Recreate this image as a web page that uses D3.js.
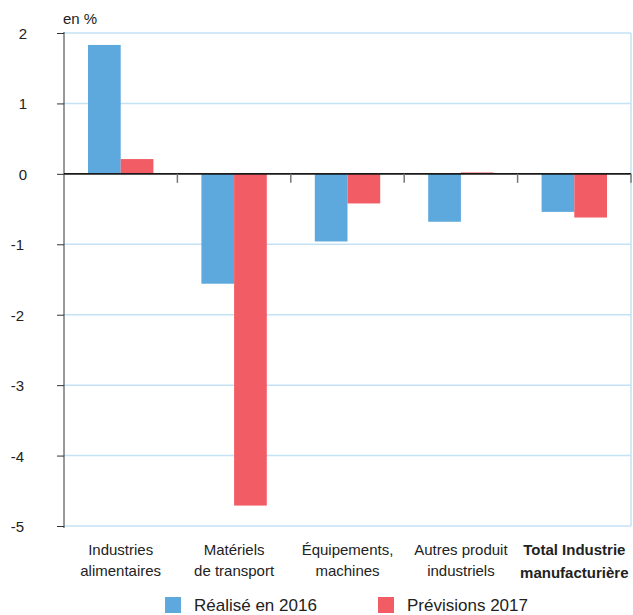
<!DOCTYPE html>
<html>
<head>
<meta charset="utf-8">
<script src="https://cdn.jsdelivr.net/npm/d3@7/dist/d3.min.js"></script>
<style>
  html, body { margin: 0; padding: 0; background: #fff; }
  svg { display: block; font-family: "Liberation Sans", Arial, Helvetica, sans-serif; }
</style>
</head>
<body>
<svg id="chart" width="633" height="615"></svg>
<script>
// Categories (each label split over two lines)
const categories = [
  ["Industries", "alimentaires"],
  ["Matériels", "de transport"],
  ["Équipements,", "machines"],
  ["Autres produit", "industriels"],
  ["Total Industrie", "manufacturière"]
];
const seriesNames = ["Réalisé en 2016", "Prévisions 2017"];
const realise2016 = [1.83, -1.56, -0.96, -0.68, -0.54];
const previsions2017 = [0.21, -4.71, -0.42, 0.02, -0.62];
const yTicks = [-5, -4, -3, -2, -1, 0, 1, 2];
const colors = ["#5da8dc", "#f25c64"];

const svg = d3.select("#chart");
const plotLeft = 64, plotRight = 631, plotTop = 33, plotBottom = 526;

const x0 = d3.scaleBand().domain(d3.range(categories.length)).range([plotLeft, plotRight]).padding(0);
const x1 = d3.scaleBand().domain([0, 1]).range([0, x0.bandwidth()]).paddingInner(0).paddingOuter(0.734);
const y = d3.scaleLinear().domain([-5, 2]).range([plotBottom, plotTop]);

// light blue gridlines
svg.append("g").selectAll("line").data(yTicks.filter(d => d !== 0)).join("line")
  .attr("x1", plotLeft).attr("x2", plotRight)
  .attr("y1", d => y(d)).attr("y2", d => y(d))
  .attr("stroke", "#c4e2f5").attr("stroke-width", 1.5);
// right frame edge
svg.append("line").attr("x1", plotRight).attr("x2", plotRight).attr("y1", y(2)).attr("y2", y(-5))
  .attr("stroke", "#c4e2f5").attr("stroke-width", 1.5);

// bars
const series = [realise2016, previsions2017];
series.forEach((vals, s) => {
  svg.append("g").selectAll("rect").data(vals).join("rect")
    .attr("x", (d, i) => x0(i) + x1(s))
    .attr("width", x1.bandwidth())
    .attr("y", d => y(Math.max(0, d)))
    .attr("height", d => Math.abs(y(d) - y(0)))
    .attr("fill", colors[s]);
});

// y axis
const yAxis = d3.axisLeft(y).tickValues(yTicks).tickSize(7).tickFormat("");
const ya = svg.append("g").attr("transform", `translate(${plotLeft},0)`).call(yAxis);
ya.select(".domain").attr("stroke", "#333").attr("d", `M-0,${plotTop - 1}V${plotBottom + 2}`);
ya.selectAll(".tick line").attr("stroke", "#333");
svg.append("g").selectAll("text").data(yTicks).join("text")
  .attr("x", d => d < 0 ? 24 : 27)
  .attr("y", d => y(d) + 6)
  .attr("text-anchor", "end")
  .attr("font-size", 15)
  .attr("fill", "#222")
  .text(d => d);

// zero line with category separators
svg.append("line").attr("x1", plotLeft).attr("x2", plotRight).attr("y1", y(0)).attr("y2", y(0))
  .attr("stroke", "#1a1a1a").attr("stroke-width", 1.6);
svg.append("g").selectAll("line").data(d3.range(1, categories.length + 1)).join("line")
  .attr("x1", i => plotLeft + i * x0.step()).attr("x2", i => plotLeft + i * x0.step())
  .attr("y1", y(0)).attr("y2", y(0) + 9)
  .attr("stroke", "#777").attr("stroke-width", 1.5);

// unit label
svg.append("text").attr("x", 63).attr("y", 24).attr("font-size", 15).attr("fill", "#222").text("en %");

// category labels
categories.forEach((lines, i) => {
  const last = i === categories.length - 1;
  const cx = x0(i) + x0.bandwidth() / 2;
  const t = svg.append("text").attr("text-anchor", "middle").attr("font-size", 15)
    .attr("fill", "#222").attr("font-weight", last ? "bold" : "normal");
  t.append("tspan").attr("x", cx).attr("y", 555).text(lines[0]);
  t.append("tspan").attr("x", cx).attr("y", last ? 578 : 576).text(lines[1]);
});

// legend
const legendX = [165, 378];
seriesNames.forEach((name, s) => {
  svg.append("rect").attr("x", legendX[s]).attr("y", 597).attr("width", 16).attr("height", 16).attr("fill", colors[s]);
  svg.append("text").attr("x", legendX[s] + 29).attr("y", 611).attr("font-size", 17)
    .attr("fill", "#222").text(name);
});
</script>
</body>
</html>
